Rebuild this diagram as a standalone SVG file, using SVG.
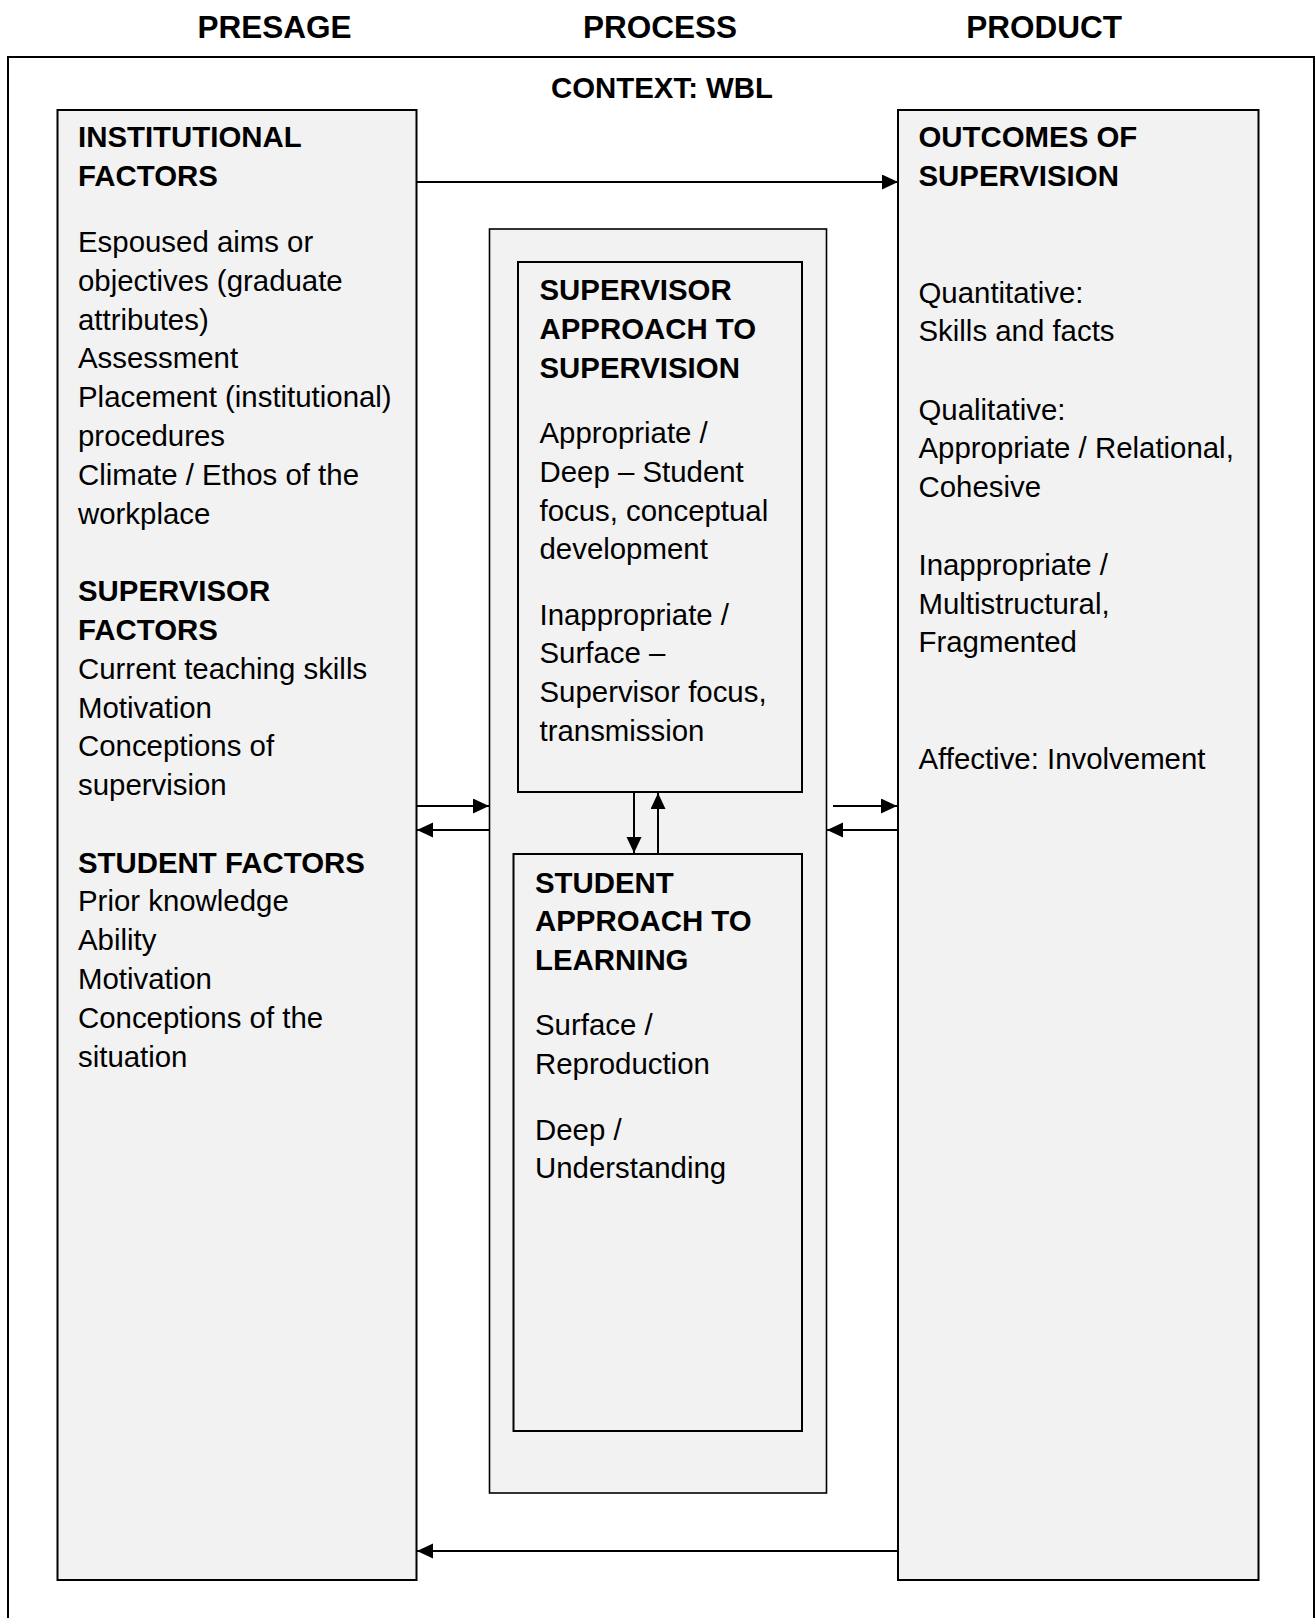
<svg xmlns="http://www.w3.org/2000/svg" width="1316" height="1618" viewBox="0 0 1316 1618">
<defs>
<style>
.t{font-family:"Liberation Sans",Arial,sans-serif;font-size:29.4px;fill:#000}
.b{font-weight:bold}
.h{font-family:"Liberation Sans",Arial,sans-serif;font-size:31.5px;font-weight:bold;fill:#000;text-anchor:middle}
.box{fill:#f2f2f2;stroke:#000;stroke-width:2}
.cl{fill:none;stroke:#000;stroke-width:2}
</style>
<marker id="ah" markerUnits="userSpaceOnUse" markerWidth="17" markerHeight="16" refX="16" refY="7.5" orient="auto">
<path d="M0,0 L16,7.5 L0,15 z" fill="#000"/>
</marker>
</defs>
<rect width="1316" height="1618" fill="#fff"/>
<g id="headings">
<text class="h" x="274.5" y="38">PRESAGE</text>
<text class="h" x="660" y="38">PROCESS</text>
<text class="h" x="1044" y="38">PRODUCT</text>
</g>
<g id="context">
<path d="M8,1618 V57 H1314 V1618" fill="none" stroke="#000" stroke-width="2"/>
<text class="t b" x="662" y="98" text-anchor="middle">CONTEXT: WBL</text>
</g>
<g id="presage">
<rect class="box" x="57.5" y="110" width="359" height="1470"/>
<text class="t b"><tspan x="78" y="147">INSTITUTIONAL</tspan><tspan x="78" y="186">FACTORS</tspan></text>
<text class="t"><tspan x="78" y="252">Espoused aims or</tspan><tspan x="78" y="290.8">objectives (graduate</tspan><tspan x="78" y="329.6">attributes)</tspan><tspan x="78" y="368.4">Assessment</tspan><tspan x="78" y="407.2">Placement (institutional)</tspan><tspan x="78" y="446">procedures</tspan><tspan x="78" y="484.8">Climate / Ethos of the</tspan><tspan x="78" y="523.6">workplace</tspan></text>
<text class="t b"><tspan x="78" y="601.2">SUPERVISOR</tspan><tspan x="78" y="640">FACTORS</tspan></text>
<text class="t"><tspan x="78" y="678.8">Current teaching skills</tspan><tspan x="78" y="717.6">Motivation</tspan><tspan x="78" y="756.4">Conceptions of</tspan><tspan x="78" y="795.2">supervision</tspan></text>
<text class="t b" x="78" y="872.6">STUDENT FACTORS</text>
<text class="t"><tspan x="78" y="911.4">Prior knowledge</tspan><tspan x="78" y="950.2">Ability</tspan><tspan x="78" y="989">Motivation</tspan><tspan x="78" y="1027.8">Conceptions of the</tspan><tspan x="78" y="1066.6">situation</tspan></text>
</g>
<g id="process">
<rect class="box" x="489.5" y="229" width="337" height="1264" style="stroke-width:1.6"/>
</g>
<g id="supervisor-approach">
<rect class="box" x="518" y="262" width="284" height="530"/>
<text class="t b"><tspan x="539.5" y="300">SUPERVISOR</tspan><tspan x="539.5" y="338.8">APPROACH TO</tspan><tspan x="539.5" y="377.6">SUPERVISION</tspan></text>
<text class="t"><tspan x="539.5" y="443">Appropriate /</tspan><tspan x="539.5" y="481.8">Deep – Student</tspan><tspan x="539.5" y="520.6">focus, conceptual</tspan><tspan x="539.5" y="559.4">development</tspan><tspan x="539.5" y="624.5">Inappropriate /</tspan><tspan x="539.5" y="663.3">Surface –</tspan><tspan x="539.5" y="702.1">Supervisor focus,</tspan><tspan x="539.5" y="740.9">transmission</tspan></text>
</g>
<g id="student-approach">
<rect class="box" x="513.5" y="854" width="288.5" height="577"/>
<text class="t b"><tspan x="535" y="892.5">STUDENT</tspan><tspan x="535" y="931.3">APPROACH TO</tspan><tspan x="535" y="970.1">LEARNING</tspan></text>
<text class="t"><tspan x="535" y="1035">Surface /</tspan><tspan x="535" y="1073.8">Reproduction</tspan><tspan x="535" y="1139.5">Deep /</tspan><tspan x="535" y="1178.3">Understanding</tspan></text>
</g>
<g id="product">
<rect class="box" x="898" y="110" width="360.5" height="1470"/>
<text class="t b"><tspan x="918.5" y="147">OUTCOMES OF</tspan><tspan x="918.5" y="186">SUPERVISION</tspan></text>
<text class="t"><tspan x="918.5" y="302.5">Quantitative:</tspan><tspan x="918.5" y="341.3">Skills and facts</tspan><tspan x="918.5" y="419.5">Qualitative:</tspan><tspan x="918.5" y="458.3">Appropriate / Relational,</tspan><tspan x="918.5" y="497.1">Cohesive</tspan><tspan x="918.5" y="574.7">Inappropriate /</tspan><tspan x="918.5" y="613.5">Multistructural,</tspan><tspan x="918.5" y="652.3">Fragmented</tspan><tspan x="918.5" y="768.7">Affective: Involvement</tspan></text>
</g>
<g id="connectors">
<path class="cl" d="M417,182 H898" marker-end="url(#ah)"/>
<path class="cl" d="M417,806 H489" marker-end="url(#ah)"/>
<path class="cl" d="M489,830 H417" marker-end="url(#ah)"/>
<path class="cl" d="M833,806 H897" marker-end="url(#ah)"/>
<path class="cl" d="M897,830 H827" marker-end="url(#ah)"/>
<path class="cl" d="M634,793 V853" marker-end="url(#ah)"/>
<path class="cl" d="M658,853 V793" marker-end="url(#ah)"/>
<path class="cl" d="M897,1551 H417" marker-end="url(#ah)"/>
</g>
</svg>
